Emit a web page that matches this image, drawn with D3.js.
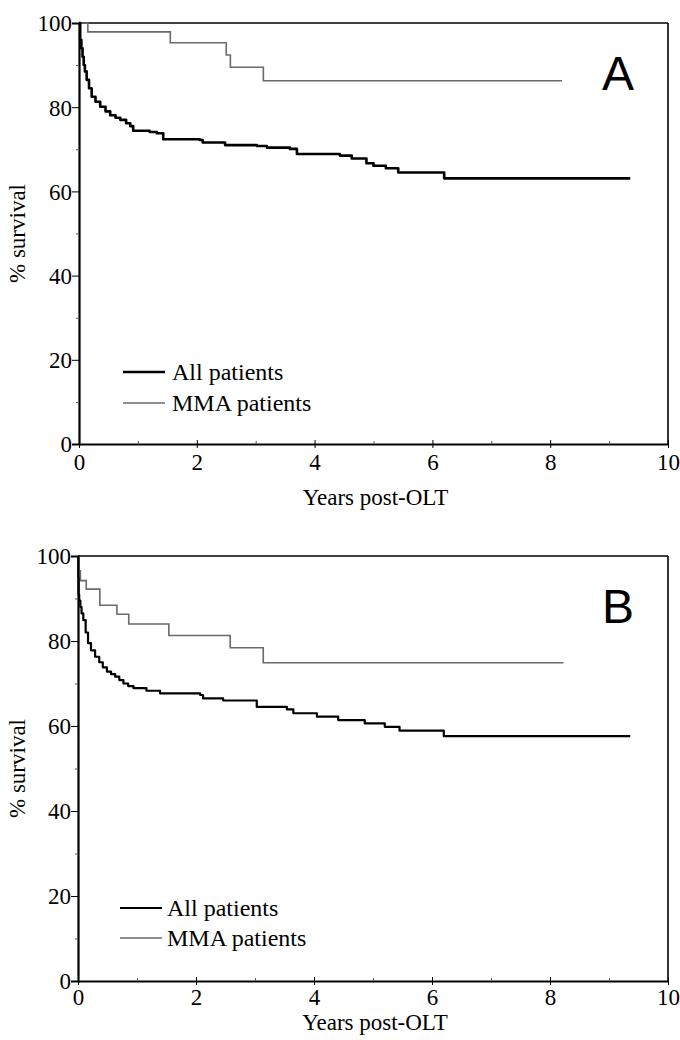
<!DOCTYPE html>
<html>
<head>
<meta charset="utf-8">
<script src="https://cdn.jsdelivr.net/npm/d3@7"></script>
<style>
  html, body { margin: 0; padding: 0; background: #fff; }
  svg { display: block; }
</style>
</head>
<body>
<svg id="chart" width="680" height="1040"></svg>
<script>
// ---- Data ----
const xTicks = [0, 2, 4, 6, 8, 10];
const xMinorTicks = [1, 3, 5, 7, 9];
const yTicks = [0, 20, 40, 60, 80, 100];
const yMinorTicks = [10, 30, 50, 70, 90];
const seriesNames = ["All patients", "MMA patients"];
const panelLabels = ["A", "B"];

// Panel A - all patients
const aAllTime = [0, 0.02, 0.04, 0.06, 0.08, 0.10, 0.13, 0.17, 0.215, 0.28, 0.36, 0.45, 0.53, 0.62, 0.70, 0.80, 0.87, 0.92, 1.20, 1.32, 1.43, 2.05, 2.10, 2.48, 3.02, 3.19, 3.58, 3.70, 4.43, 4.63, 4.88, 5.00, 5.21, 5.42, 6.20, 9.36];
const aAllSurv = [100, 96, 94, 92, 90, 88.5, 86.5, 84.5, 82.5, 81.3, 80.1, 79, 78.1, 77.5, 77, 76.2, 75.5, 74.4, 74.1, 73.8, 72.4, 72.2, 71.6, 71.0, 70.8, 70.4, 70.1, 68.9, 68.5, 67.8, 66.7, 66.1, 65.5, 64.5, 63.1, 63.1];
// Panel A - MMA patients
const aMmaTime = [0, 0.15, 1.55, 2.50, 2.57, 3.13, 8.20];
const aMmaSurv = [100, 97.9, 95.3, 92.4, 89.5, 86.3, 86.3];

// Panel B - all patients
const bAllTime = [0, 0.005, 0.01, 0.02, 0.04, 0.06, 0.09, 0.13, 0.17, 0.22, 0.29, 0.36, 0.42, 0.49, 0.56, 0.63, 0.70, 0.77, 0.85, 0.94, 1.16, 1.39, 2.07, 2.12, 2.46, 3.03, 3.54, 3.65, 4.05, 4.41, 4.86, 5.20, 5.45, 6.20, 9.36];
const bAllSurv = [100, 95, 91, 89.5, 88, 86.5, 84.9, 82, 79.5, 77.8, 76.3, 75, 73.8, 72.8, 72.2, 71.6, 70.8, 70.0, 69.4, 68.9, 68.3, 67.7, 67.3, 66.5, 66.0, 64.5, 63.9, 63.0, 62.2, 61.4, 60.6, 59.8, 58.9, 57.6, 57.6];
// Panel B - MMA patients
const bMmaTime = [0, 0.01, 0.02, 0.04, 0.14, 0.37, 0.66, 0.86, 1.54, 2.58, 3.14, 8.23];
const bMmaSurv = [100, 98, 96.5, 94.2, 92.2, 88.4, 86.3, 84.0, 81.3, 78.4, 74.9, 74.9];

const xLabel = "Years post-OLT";
const yLabel = "% survival";

// ---- Drawing ----
const svg = d3.select("#chart");
const serif = "'Liberation Serif', 'Times New Roman', serif";

const panels = [
  { left: 79, top: 23, right: 668, bottom: 444, label: panelLabels[0],
    all: d3.zip(aAllTime, aAllSurv), mma: d3.zip(aMmaTime, aMmaSurv),
    allWidth: 2.6, xTitleOff: 61, xTickOff: 26, legOff: [72, 41], legX: [44, 86, 93] },
  { left: 78, top: 556, right: 668, bottom: 981, label: panelLabels[1],
    all: d3.zip(bAllTime, bAllSurv), mma: d3.zip(bMmaTime, bMmaSurv),
    allWidth: 2.2, xTitleOff: 49, xTickOff: 24, legOff: [73, 43], legX: [42, 84, 89] }
];

panels.forEach(p => {
  const x = d3.scaleLinear().domain([0, 10]).range([p.left, p.right]);
  const y = d3.scaleLinear().domain([0, 100]).range([p.bottom, p.top]);
  const g = svg.append("g");

  // frame (top + right thinner)
  g.append("line").attr("x1", p.left).attr("x2", p.right).attr("y1", p.top).attr("y2", p.top)
    .attr("stroke", "#000").attr("stroke-width", 1.6);
  g.append("line").attr("x1", p.right).attr("x2", p.right).attr("y1", p.top).attr("y2", p.bottom)
    .attr("stroke", "#000").attr("stroke-width", 1.6);

  // y axis
  const yAxis = g.append("g").attr("transform", `translate(${p.left},0)`)
    .call(d3.axisLeft(y).tickValues(yTicks).tickSize(7).tickPadding(0).tickFormat(d3.format("d")));
  yAxis.select(".domain").attr("stroke-width", 2.2);
  yAxis.selectAll(".tick line").attr("stroke-width", 1);
  yAxis.selectAll(".tick text").attr("font-family", serif).attr("font-size", 23).attr("fill", "#000")
    .attr("dy", "0.34em");
  g.append("g").attr("transform", `translate(${p.left},0)`)
    .call(d3.axisLeft(y).tickValues(yMinorTicks).tickSize(3).tickFormat(""))
    .call(s => s.select(".domain").remove())
    .selectAll(".tick line").attr("stroke", "#555").attr("stroke-width", 1);

  // x axis
  const xAxis = g.append("g").attr("transform", `translate(0,${p.bottom})`)
    .call(d3.axisBottom(x).tickValues(xTicks).tickSizeInner(4).tickSizeOuter(0).tickPadding(0).tickFormat(d3.format("d")));
  xAxis.select(".domain").attr("stroke-width", 2.2);
  xAxis.selectAll(".tick line").attr("y1", -4).attr("y2", 4).attr("stroke-width", 1);
  xAxis.selectAll(".tick text").attr("font-family", serif).attr("font-size", 23).attr("fill", "#000")
    .attr("y", p.xTickOff).attr("dy", 0);
  g.append("g").attr("transform", `translate(0,${p.bottom})`)
    .call(d3.axisBottom(x).tickValues(xMinorTicks).tickSizeInner(-3).tickSizeOuter(0).tickFormat(""))
    .call(s => s.select(".domain").remove())
    .selectAll(".tick line").attr("stroke", "#555").attr("stroke-width", 1);

  // curves
  const line = d3.line().x(d => x(d[0])).y(d => y(d[1])).curve(d3.curveStepAfter);
  g.append("path").datum(p.mma).attr("d", line)
    .attr("fill", "none").attr("stroke", "#6a6a6a").attr("stroke-width", 1.6);
  g.append("path").datum(p.all).attr("d", line)
    .attr("fill", "none").attr("stroke", "#000").attr("stroke-width", p.allWidth)
    .attr("stroke-linejoin", "round");

  // axis titles
  g.append("text").attr("x", (p.left + p.right) / 2 + 2).attr("y", p.bottom + p.xTitleOff)
    .attr("text-anchor", "middle").attr("font-family", serif).attr("font-size", 23).text(xLabel);
  g.append("text")
    .attr("transform", `translate(25,${(p.top + p.bottom) / 2}) rotate(-90)`)
    .attr("text-anchor", "middle").attr("font-family", serif).attr("font-size", 23).text(yLabel);

  // panel label
  g.append("text").attr("x", p.right - 50).attr("y", p.top + 67)
    .attr("text-anchor", "middle").attr("font-family", "'Liberation Sans', Arial, sans-serif")
    .attr("font-size", 48).text(p.label);

  // legend
  const legStyles = [
    { stroke: "#000", w: p.allWidth },
    { stroke: "#6a6a6a", w: 1.6 }
  ];
  seriesNames.forEach((name, i) => {
    const ly = p.bottom - p.legOff[i];
    g.append("line").attr("x1", p.left + p.legX[0]).attr("x2", p.left + p.legX[1])
      .attr("y1", ly).attr("y2", ly)
      .attr("stroke", legStyles[i].stroke).attr("stroke-width", legStyles[i].w);
    g.append("text").attr("x", p.left + p.legX[2]).attr("y", ly + 8)
      .attr("font-family", serif).attr("font-size", 24).text(name);
  });
});
</script>
</body>
</html>
